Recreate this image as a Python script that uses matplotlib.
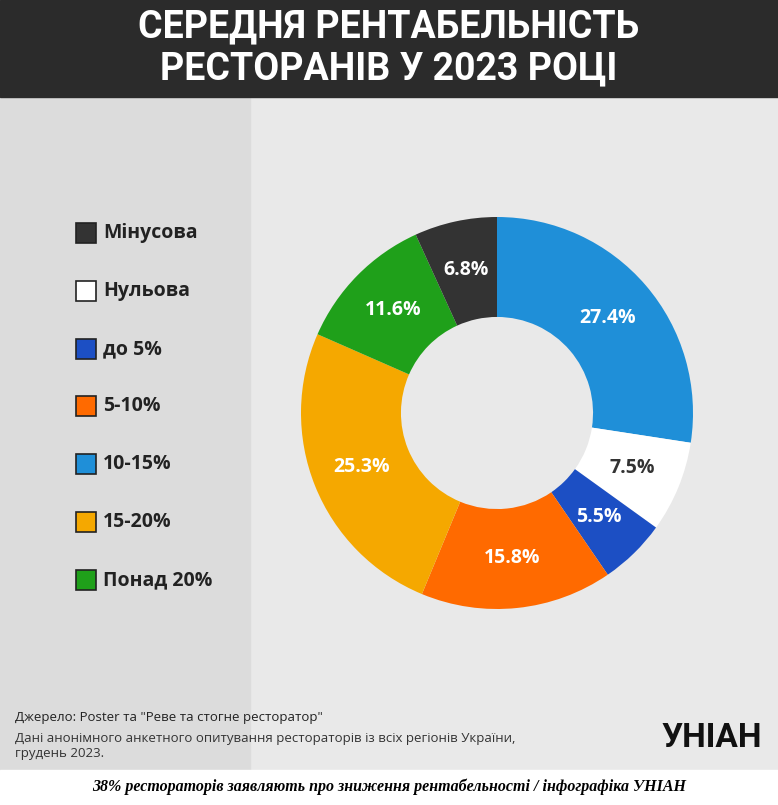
import matplotlib
matplotlib.use("Agg")
import matplotlib.pyplot as plt
from matplotlib.patches import Rectangle
import numpy as np

categories = ["Мінусова", "Нульова", "до 5%", "5-10%", "10-15%", "15-20%", "Понад 20%"]
legend_colors = ["#333333", "#ffffff", "#1c4fc4", "#ff6a00", "#1f8fd8", "#f5a800", "#1fa01a"]
# pie order clockwise from top
pie_labels = ["10-15%", "Нульова", "до 5%", "5-10%", "15-20%", "Понад 20%", "Мінусова"]
pie_values = [27.4, 7.5, 5.5, 15.8, 25.3, 11.6, 6.8]
title = "СЕРЕДНЯ РЕНТАБЕЛЬНІСТЬ\nРЕСТОРАНІВ У 2023 РОЦІ"

W, H = 778, 805
fig = plt.figure(figsize=(W/100, H/100), dpi=100)
bg = fig.add_axes([0, 0, 1, 1])
bg.set_xlim(0, W); bg.set_ylim(H, 0); bg.axis("off")
bg.add_patch(Rectangle((0, 0), W, 770, color="#e9e9e9"))
bg.add_patch(Rectangle((0, 0), 250, 770, color="#dcdcdc"))
bg.add_patch(Rectangle((0, 0), W, 97, color="#2b2b2b"))
bg.add_patch(Rectangle((0, 770), W, 35, color="#ffffff"))
bg.text(W/2, 48, title, ha="center", va="center", color="white",
        fontsize=27, fontweight="heavy", family="Roboto", linespacing=1.15)

ys = [233, 291, 349, 406, 464, 522, 580]
for c, col, y in zip(categories, legend_colors, ys):
    bg.add_patch(Rectangle((76, y-10), 20, 20, facecolor=col, edgecolor="#222222", lw=1.2))
    bg.text(103, y, c, va="center", ha="left", fontsize=14, fontweight="bold",
            family="Open Sans", color="#222222")

bg.text(15, 717, 'Джерело: Poster та "Реве та стогне ресторатор"', fontsize=9.5,
        family="Open Sans", color="#222222", va="center")
bg.text(15, 746, "Дані анонімного анкетного опитування рестораторів із всіх регіонів України,\nгрудень 2023.",
        fontsize=9.5, family="Open Sans", color="#333333", va="center", linespacing=1.2)
bg.text(712, 738, "УНІАН", fontsize=24, fontweight="heavy", family="Roboto",
        ha="center", va="center", color="#111111")
bg.text(389, 787, "38% рестораторів заявляють про зниження рентабельності / інфографіка УНІАН",
        fontsize=11.5, fontweight="bold", style="italic", family="Liberation Serif",
        ha="center", va="center", color="#000000")

cmap = dict(zip(categories, legend_colors))
cx, cy, r = 497, 413, 196
ax = fig.add_axes([(cx-r)/W, 1-(cy+r)/H, 2*r/W, 2*r/H])
wedges, texts = ax.pie(pie_values, colors=[cmap[l] for l in pie_labels], startangle=90,
                       counterclock=False, wedgeprops=dict(width=0.51, edgecolor="none"))
for w, v, l in zip(wedges, pie_values, pie_labels):
    ang = np.deg2rad((w.theta1 + w.theta2) / 2)
    rr = 0.745
    col = "#333333" if l == "Нульова" else "white"
    ax.text(rr*np.cos(ang), rr*np.sin(ang), f"{v}%", ha="center", va="center",
            fontsize=14, fontweight="bold", family="Open Sans", color=col)
ax.set_xlim(-1, 1); ax.set_ylim(-1, 1)
ax.set_aspect("equal")
fig.savefig("out.png", dpi=100)
